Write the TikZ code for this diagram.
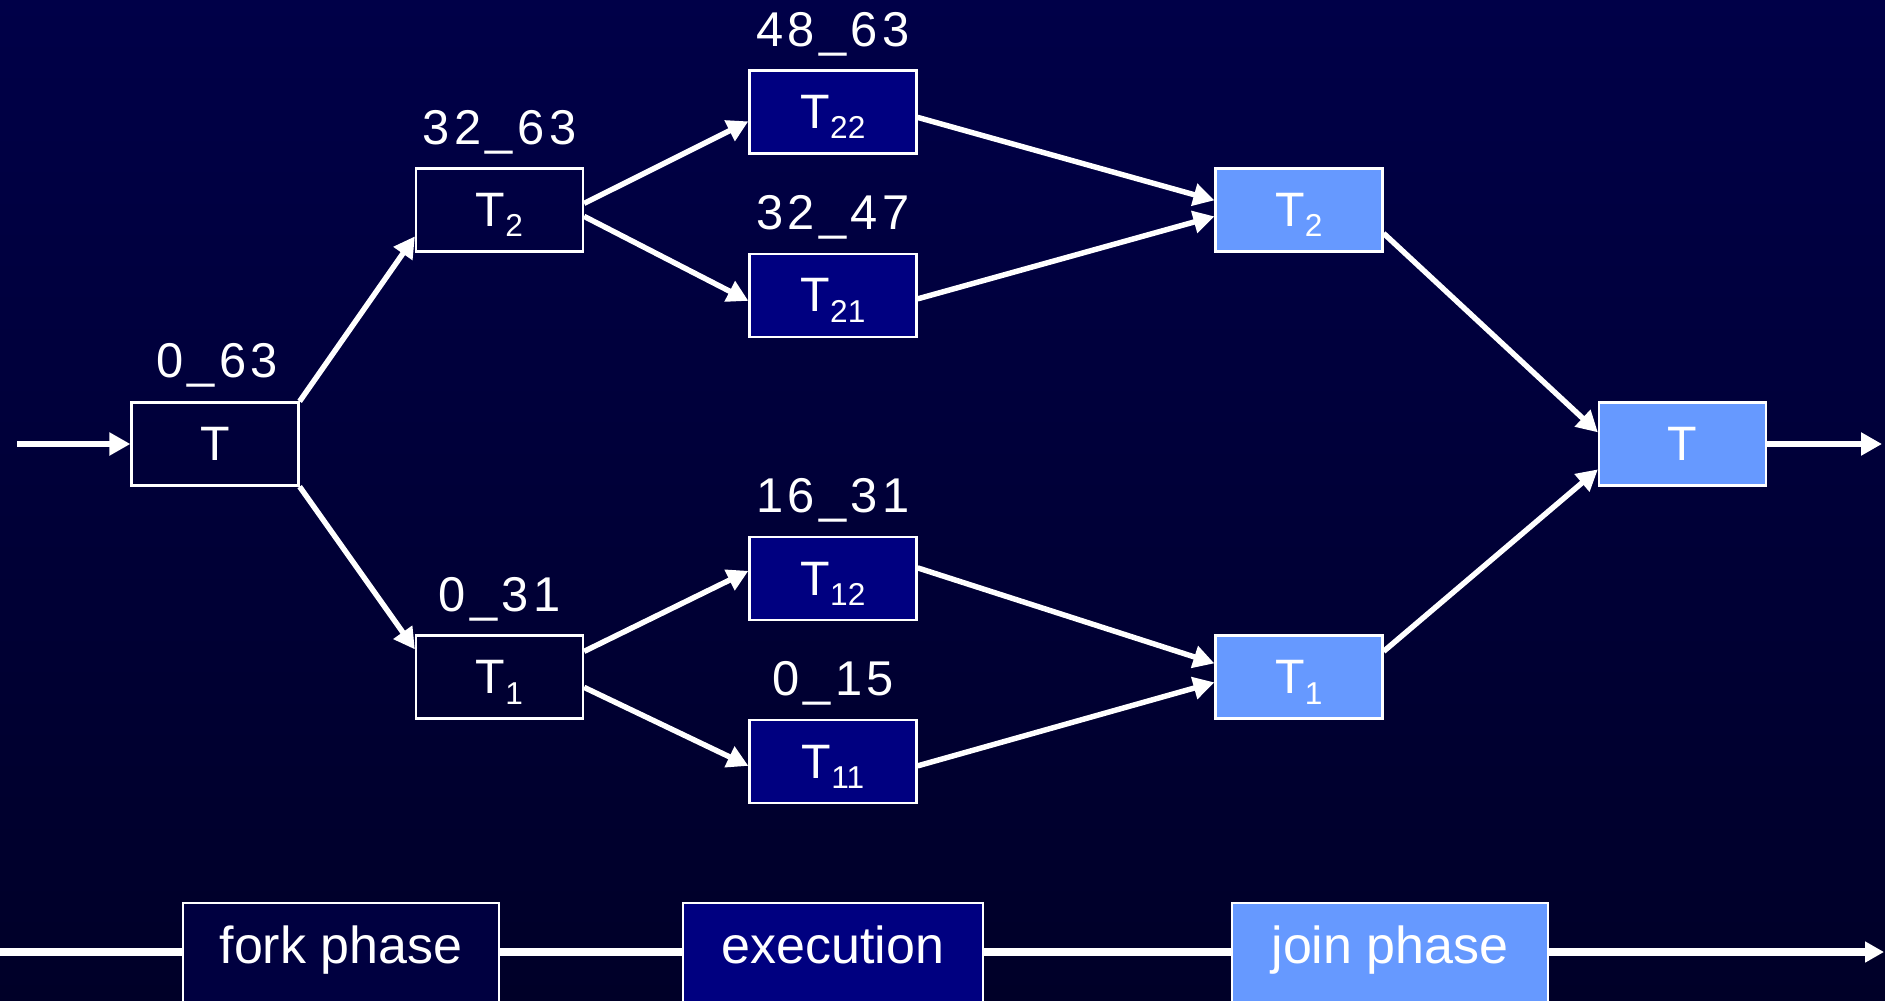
\documentclass[tikz,border=0pt]{standalone}
\usepackage{fontspec}
\setmainfont{Liberation Sans}
\usetikzlibrary{arrows.meta,calc}

\definecolor{bgtop}{RGB}{0,0,72}
\definecolor{bgmid}{RGB}{0,0,96}
\definecolor{bgbot}{RGB}{0,0,40}
\definecolor{execblue}{RGB}{0,0,128}
\definecolor{joinblue}{RGB}{102,153,255}
\definecolor{forkfill}{RGB}{0,0,64}

% task name with a lowered index
\newcommand{\taskname}[1]{T\raisebox{-0.21cm}{\fontsize{18pt}{18pt}\selectfont #1}}

\begin{document}
\begin{tikzpicture}[x=0.02cm, y=-0.02cm,
  box/.style={draw=white, line width=1.3pt, minimum width=3.34cm, minimum height=1.66cm,
    inner sep=0pt, text=white, font=\fontsize{27.5pt}{27.5pt}\selectfont,
    text height=0.66cm, text depth=0pt},
  forkbox/.style={box},
  execbox/.style={box, fill=execblue},
  joinbox/.style={box, fill=joinblue},
  rangelabel/.style={text=white, anchor=base, inner sep=0pt,
    font=\fontsize{27.8pt}{27.8pt}\selectfont\addfontfeature{LetterSpace=9}},
  flow/.style={draw=white, line width=3.1pt, -{Triangle[length=0.42cm,width=0.44cm]}},
  phase/.style={draw=white, line width=1pt, anchor=north, minimum height=2.2cm,
    inner sep=0pt, text=white, font=\fontsize{29.6pt}{29.6pt}\selectfont,
    text height=0.5cm, text depth=0.26cm},
  timeline/.style={draw=white, line width=4pt, -{Triangle[length=0.38cm,width=0.4cm]}}
]
\useasboundingbox (0,0) rectangle (1885,1000);
\clip (0,0) rectangle (1885,1000);
\shade[top color=bgtop, middle color=bgmid, bottom color=bgbot] (0,0) rectangle (1885,1000);

% task boxes
\node[forkbox] (T)   at (215,444)   {T};
\node[forkbox] (T2)  at (499.5,210) {\taskname{2}};
\node[forkbox] (T1)  at (499.5,677) {\taskname{1}};
\node[execbox] (T22) at (833,112)   {\taskname{22}};
\node[execbox] (T21) at (833,295.5) {\taskname{21}};
\node[execbox] (T12) at (833,578.5) {\taskname{12}};
\node[execbox] (T11) at (833,761.5) {\taskname{11}};
\node[joinbox] (J2)  at (1299,210)  {\taskname{2}};
\node[joinbox] (J1)  at (1299,677)  {\taskname{1}};
\node[joinbox] (F)   at (1682.5,444) {T};

% index ranges
\node[rangelabel] (rT)   at ($(T.north)+(2,-24)$)   {0\_63};
\node[rangelabel] (rT2)  at ($(T2.north)+(0,-23)$)  {32\_63};
\node[rangelabel] (rT1)  at ($(T1.north)+(0,-23)$)  {0\_31};
\node[rangelabel] (rT22) at ($(T22.north)+(0,-23)$) {48\_63};
\node[rangelabel] (rT21) at ($(T21.north)+(0,-23)$) {32\_47};
\node[rangelabel] (rT12) at ($(T12.north)+(0,-23)$) {16\_31};
\node[rangelabel] (rT11) at ($(T11.north)+(0,-23)$) {0\_15};

% connectors
\coordinate (src) at (17,444);
\coordinate (snk) at (1882,444);
\draw[flow] (src) -- (T.west);
\draw[flow] (T.north east) -- ($(T2.north west)+(0,69)$);
\draw[flow] (T.south east) -- ($(T1.north west)+(0,15)$);
\draw[flow] ($(T2.north east)+(0,36)$) -- ($(T22.north west)+(0,52)$);
\draw[flow] ($(T2.north east)+(0,49)$) -- ($(T21.north west)+(0,48)$);
\draw[flow] ($(T1.north east)+(0,17)$) -- ($(T12.north west)+(0,35)$);
\draw[flow] ($(T1.north east)+(0,53)$) -- ($(T11.north west)+(0,47)$);
\draw[flow] ($(T22.north east)+(0,48)$) -- ($(J2.north west)+(0,33)$);
\draw[flow] ($(T21.north east)+(0,46)$) -- ($(J2.north west)+(0,49)$);
\draw[flow] ($(T12.north east)+(0,32)$) -- ($(J1.north west)+(0,29)$);
\draw[flow] ($(T11.north east)+(0,47)$) -- ($(J1.north west)+(0,48)$);
\draw[flow] ($(J2.north east)+(0,66)$) -- ($(F.north west)+(0,31)$);
\draw[flow] ($(J1.north east)+(0,17)$) -- ($(F.north west)+(0,68)$);
\draw[flow] (F.east) -- (snk);

% phase timeline
\coordinate (tlstart) at (0,952);
\coordinate (tlend) at (1884,952);
\draw[timeline] (tlstart) -- (tlend);
\node[phase, fill=forkfill, minimum width=6.32cm] (pfork) at (341,902) {fork phase};
\node[phase, fill=execblue, minimum width=6.0cm] (pexec) at (833,902) {execution};
\node[phase, fill=joinblue, minimum width=6.32cm] (pjoin) at (1390,902) {join phase};
\end{tikzpicture}
\end{document}
